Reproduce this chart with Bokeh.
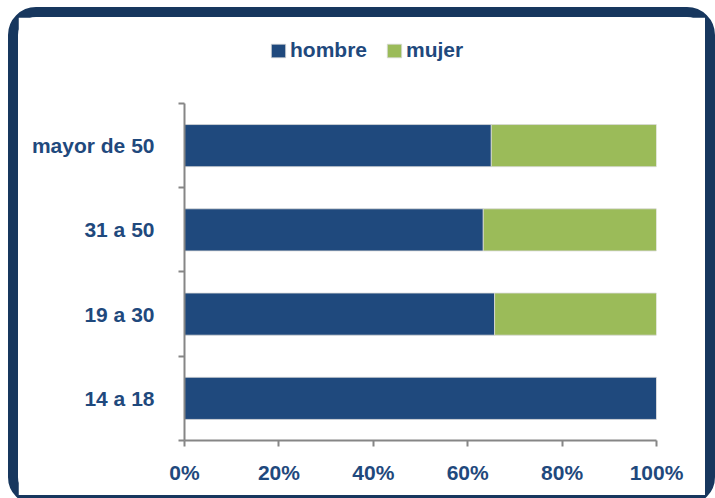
from bokeh.plotting import figure
from bokeh.models import (ColumnDataSource, Range1d, FixedTicker, PrintfTickFormatter,
                          Legend, LegendItem)
from bokeh.embed import file_html
from bokeh.resources import INLINE

# ---- data ----
categories = ["14 a 18", "19 a 30", "31 a 50", "mayor de 50"]
hombre = [100.0, 65.7, 63.3, 65.0]
mujer = [0.0, 34.3, 36.7, 35.0]
x_ticks = [0, 20, 40, 60, 80, 100]
series_names = ["hombre", "mujer"]
series_colors = ["#1F497D", "#9BBB59"]

TEXT = "#1F497D"
FRAME = "#17375E"
AXIS = "#868686"
FONT = "Liberation Sans"

n = len(categories)
ypos = [i + 0.5 for i in range(n)]
bounds = [float(i) for i in range(n + 1)]

source = ColumnDataSource(dict(y=ypos, hombre=hombre, mujer=mujer))

W, H = 707, 498
p = figure(width=W, height=H, output_backend="svg", toolbar_location=None,
           x_range=Range1d(0, 100), y_range=Range1d(0, n + 0.89),
           min_border_left=166, min_border_right=69, min_border_top=11,
           min_border_bottom=75)
p.styles = {"border": f"10px solid {FRAME}", "border-radius": "28px",
            "margin-left": "8px", "margin-top": "7px"}
p.outline_line_color = None
p.xgrid.visible = False
p.ygrid.visible = False
p.background_fill_color = "white"
p.border_fill_color = "white"

renderers = p.hbar_stack(series_names, y="y", height=0.5, color=series_colors,
                         line_color="#D9D9D9", line_width=0.8, source=source)

# x axis
xa = p.xaxis[0]
xa.ticker = FixedTicker(ticks=x_ticks)
xa.formatter = PrintfTickFormatter(format="%d%%")
xa.axis_line_color = AXIS
xa.axis_line_width = 2
xa.major_tick_line_color = AXIS
xa.major_tick_line_width = 2
xa.major_tick_out = 6
xa.major_tick_in = 0
xa.minor_tick_line_color = None
xa.major_label_standoff = 14
xa.major_label_text_font = FONT
xa.major_label_text_font_style = "bold"
xa.major_label_text_font_size = "21px"
xa.major_label_text_color = TEXT

# y axis: labels at centers, ticks at boundaries
ya = p.yaxis[0]
ya.bounds = (0, n)
ya.ticker = FixedTicker(ticks=ypos, minor_ticks=bounds)
ya.major_label_overrides = {y: c for y, c in zip(ypos, categories)}
ya.axis_line_color = AXIS
ya.axis_line_width = 2
ya.major_tick_line_color = None
ya.major_tick_out = 0
ya.major_tick_in = 0
ya.minor_tick_line_color = AXIS
ya.minor_tick_line_width = 2
ya.minor_tick_out = 6
ya.minor_tick_in = 0
ya.major_label_standoff = 24
ya.major_label_text_font = FONT
ya.major_label_text_font_style = "bold"
ya.major_label_text_font_size = "21px"
ya.major_label_text_color = TEXT

legend = Legend(items=[LegendItem(label=s, renderers=[r]) for s, r in zip(series_names, renderers)],
                orientation="horizontal", location=(85, 378), margin=0, padding=0,
                spacing=18, glyph_width=18, glyph_height=17, label_standoff=3,
                label_height=20, label_text_font=FONT, label_text_font_style="bold",
                label_text_font_size="21px", label_text_color=TEXT,
                border_line_color=None, background_fill_alpha=0)
p.add_layout(legend, "center")

open("out.html", "w").write(file_html(p, INLINE))
